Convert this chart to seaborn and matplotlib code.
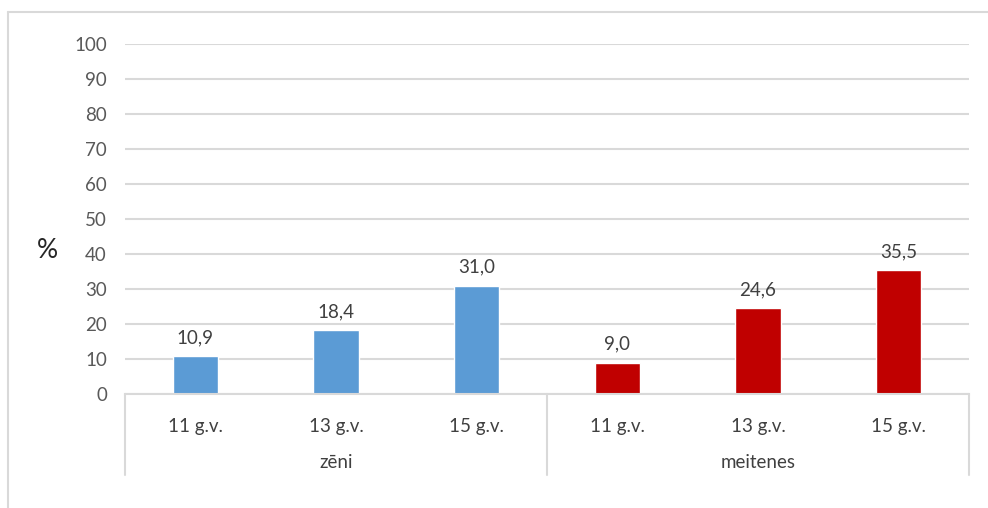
import matplotlib
matplotlib.use("Agg")
import matplotlib.pyplot as plt
from matplotlib.lines import Line2D
import seaborn as sns
import pandas as pd

# Survey shares by gender and age group
genders = ["zēni", "meitenes"]
ages = ["11 g.v.", "13 g.v.", "15 g.v."]
boys = [10.9, 18.4, 31.0]
girls = [9.0, 24.6, 35.5]
colors = {"zēni": "#5B9BD5", "meitenes": "#C00000"}
yticks = [0, 10, 20, 30, 40, 50, 60, 70, 80, 90, 100]

rows = []
for g, vals in zip(genders, [boys, girls]):
    for a, v in zip(ages, vals):
        rows.append({"cat": f"{g} {a}", "gender": g, "age": a, "value": v})
df = pd.DataFrame(rows)
order = list(df["cat"])

sns.set_theme(style="white")
plt.rcParams["font.family"] = ["Lato", "DejaVu Sans"]
FS = 13.5

fig = plt.figure(figsize=(9.88, 5.08), dpi=100)
ax = fig.add_axes([125 / 988, 1 - 394 / 508, (969 - 125) / 988, 350 / 508])

sns.barplot(data=df, x="cat", y="value", hue="gender", order=order,
            palette=colors, dodge=False, width=0.32, ax=ax, legend=False,
            saturation=1)

ax.set_ylim(0, 100)
ax.set_xlim(-0.5, len(order) - 0.5)
ax.set_yticks(yticks)
ax.set_yticklabels([str(t) for t in yticks], fontsize=FS, color="#595959")
ax.yaxis.grid(True, color="#D9D9D9", linewidth=1.5)
ax.set_axisbelow(True)
ax.tick_params(axis="y", length=0, pad=13)
ax.tick_params(axis="x", length=0, pad=17)
ax.set_xticks(range(len(order)))
ax.set_xticklabels(list(df["age"]), fontsize=FS, color="#404040")
ax.set_xlabel("")
ax.set_ylabel("")
for side in ["top", "right", "left"]:
    ax.spines[side].set_visible(False)
ax.spines["bottom"].set_color("#D9D9D9")
ax.spines["bottom"].set_linewidth(1.5)

# value labels with decimal comma
for i, v in enumerate(df["value"]):
    ax.annotate(f"{v:.1f}".replace(".", ","), (i, v), xytext=(0, 7),
                textcoords="offset points", ha="center", va="bottom",
                fontsize=FS, color="#404040")

# group separators and group names below the age labels
trans = ax.get_xaxis_transform()
sep_bottom = -(475 - 394) / 350
for xs in [-0.5, 2.5, 5.5]:
    ax.add_line(Line2D([xs, xs], [0, sep_bottom], transform=trans,
                       color="#D9D9D9", linewidth=1.5, clip_on=False))
for k, g in enumerate(genders):
    ax.text(3 * k + 1, -(463 - 394) / 350, g, transform=trans, ha="center",
            va="center", fontsize=FS, color="#404040")

fig.text(47 / 988, 1 - 250 / 508, "%", ha="center", va="center",
         fontsize=19, color="#262626")

# chart frame
fig.add_artist(Line2D([8 / 988, 1.0], [1 - 12 / 508, 1 - 12 / 508],
                      transform=fig.transFigure, color="#D9D9D9", linewidth=1.5))
fig.add_artist(Line2D([8 / 988, 8 / 988], [1 - 12 / 508, 0.0],
                      transform=fig.transFigure, color="#D9D9D9", linewidth=1.5))

fig.savefig("out.png", dpi=100)
